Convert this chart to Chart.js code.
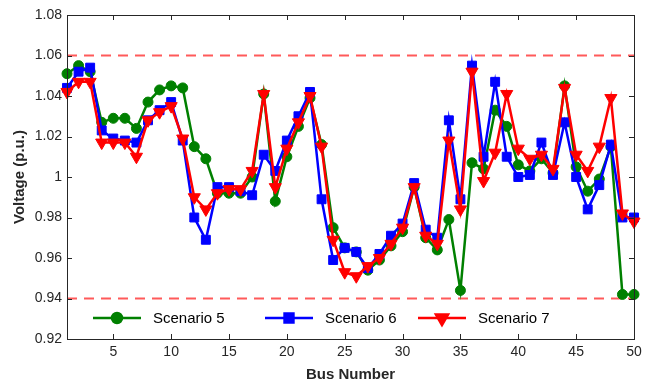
<!DOCTYPE html>
<html>
<head>
<meta charset="utf-8">
<script src="https://cdn.jsdelivr.net/npm/chart.js@4.4.1/dist/chart.umd.min.js"></script>
<style>
  html, body { margin: 0; padding: 0; background: #fff; }
  #wrap { width: 651px; height: 382px; }
</style>
</head>
<body>
<div id="wrap"><canvas id="voltageChart" width="651" height="382"></canvas></div>
<script>
// bus voltage profile for three scenarios
const busNumbers = [1, 2, 3, 4, 5, 6, 7, 8, 9, 10, 11, 12, 13, 14, 15, 16, 17, 18, 19, 20,
  21, 22, 23, 24, 25, 26, 27, 28, 29, 30, 31, 32, 33, 34, 35, 36, 37, 38, 39, 40,
  41, 42, 43, 44, 45, 46, 47, 48, 49, 50];

const scenario5 = [1.051, 1.055, 1.052, 1.027, 1.029, 1.029, 1.024, 1.037, 1.043, 1.045,
  1.044, 1.015, 1.009, 0.992, 0.992, 0.992, 1.000, 1.041, 0.988, 1.010,
  1.025, 1.039, 1.016, 0.975, 0.965, 0.963, 0.954, 0.959, 0.966, 0.973,
  0.995, 0.970, 0.964, 0.979, 0.944, 1.007, 1.004, 1.033, 1.025, 1.006,
  1.003, 1.009, 1.002, 1.045, 1.005, 0.993, 0.999, 1.015, 0.942, 0.942];

const scenario6 = [1.044, 1.052, 1.054, 1.023, 1.019, 1.018, 1.017, 1.028, 1.033, 1.037,
  1.018, 0.980, 0.969, 0.995, 0.995, 0.993, 0.991, 1.011, 1.003, 1.018,
  1.030, 1.042, 0.989, 0.959, 0.965, 0.963, 0.955, 0.962, 0.971, 0.977,
  0.997, 0.974, 0.970, 1.028, 0.989, 1.055, 1.010, 1.047, 1.010, 1.000,
  1.001, 1.017, 1.001, 1.027, 1.000, 0.984, 0.996, 1.016, 0.980, 0.980];

const scenario7 = [1.042, 1.047, 1.047, 1.017, 1.017, 1.017, 1.010, 1.028, 1.032, 1.035,
  1.019, 0.990, 0.984, 0.992, 0.994, 0.994, 1.003, 1.041, 0.995, 1.014,
  1.027, 1.040, 1.015, 0.969, 0.953, 0.951, 0.956, 0.960, 0.967, 0.975,
  0.995, 0.971, 0.967, 1.018, 0.984, 1.052, 0.998, 1.012, 1.041, 1.014,
  1.009, 1.011, 1.004, 1.044, 1.011, 1.003, 1.015, 1.039, 0.982, 0.978];

const voltageLimits = [0.94, 1.06];
const xTicks = [5, 10, 15, 20, 25, 30, 35, 40, 45, 50];
const yTicks = [0.92, 0.94, 0.96, 0.98, 1.00, 1.02, 1.04, 1.06, 1.08];

const axisColor = "#262626";
const fontFamily = "'Liberation Sans', Arial, sans-serif";

function toPoints(values) {
  return values.map((v, i) => ({ x: busNumbers[i], y: v }));
}

function limitLine(v) {
  return {
    data: [{ x: busNumbers[0], y: v }, { x: busNumbers[busNumbers.length - 1], y: v }],
    borderColor: "#ff5a5a",
    borderWidth: 2,
    borderDash: [10, 7],
    pointRadius: 0,
    order: 10,
    isLimit: true,
  };
}

function series(label, values, color, style, radius, rotation, order) {
  return {
    label: label,
    data: toPoints(values),
    borderColor: color,
    backgroundColor: color,
    borderWidth: 2.5,
    pointStyle: style,
    pointRadius: radius,
    pointRotation: rotation,
    pointBorderWidth: 1,
    pointBorderColor: color,
    pointBackgroundColor: color,
    clip: false,
    order: order,
  };
}

// box around the plot with inward tick marks on all four sides
const axesBox = {
  id: "axesBox",
  afterDatasetsDraw(chart) {
    const { ctx, chartArea: a, scales } = chart;
    const len = 5;
    ctx.save();
    ctx.strokeStyle = axisColor;
    ctx.lineWidth = 1;
    ctx.beginPath();
    xTicks.forEach((t) => {
      const px = Math.round(scales.x.getPixelForValue(t)) + 0.5;
      ctx.moveTo(px, a.bottom);
      ctx.lineTo(px, a.bottom - len);
      ctx.moveTo(px, a.top);
      ctx.lineTo(px, a.top + len);
    });
    yTicks.forEach((t) => {
      const py = Math.round(scales.y.getPixelForValue(t)) + 0.5;
      ctx.moveTo(a.left, py);
      ctx.lineTo(a.left + len, py);
      ctx.moveTo(a.right, py);
      ctx.lineTo(a.right - len, py);
    });
    ctx.stroke();
    ctx.strokeRect(Math.round(a.left) + 0.5, Math.round(a.top) + 0.5,
      Math.round(a.right - a.left), Math.round(a.bottom - a.top));
    ctx.restore();
  },
};

// horizontal legend sitting inside the bottom of the plot
const insideLegend = {
  id: "insideLegend",
  afterDraw(chart) {
    const { ctx, chartArea: a } = chart;
    const y = a.bottom - 21;
    const textStarts = [153, 325, 478];
    const lineLen = 48;
    ctx.save();
    ctx.font = "15px " + fontFamily;
    ctx.textBaseline = "middle";
    chart.data.datasets.filter((d) => !d.isLimit).forEach((d, i) => {
      const x0 = textStarts[i] - lineLen - 12;
      ctx.strokeStyle = d.borderColor;
      ctx.lineWidth = d.borderWidth;
      ctx.beginPath();
      ctx.moveTo(x0, y);
      ctx.lineTo(x0 + lineLen, y);
      ctx.stroke();
      ctx.fillStyle = d.backgroundColor;
      Chart.helpers.drawPoint(ctx, {
        pointStyle: d.pointStyle,
        radius: d.pointRadius,
        rotation: d.pointRotation,
        borderWidth: 1,
      }, x0 + lineLen / 2, y);
      ctx.fill();
      ctx.fillStyle = "#000";
      ctx.fillText(d.label, textStarts[i], y + 1);
    });
    ctx.restore();
  },
};

new Chart(document.getElementById("voltageChart"), {
  type: "line",
  data: {
    datasets: [
      series("Scenario 5", scenario5, "#008000", "circle", 5, 0, 3),
      series("Scenario 6", scenario6, "#0000ff", "rect", 6.3, 0, 2),
      series("Scenario 7", scenario7, "#ff0000", "triangle", 7, 180, 1),
      limitLine(voltageLimits[0]),
      limitLine(voltageLimits[1]),
    ],
  },
  options: {
    responsive: false,
    animation: false,
    layout: { padding: { top: 15, right: 17, left: 0, bottom: 0 } },
    plugins: {
      legend: { display: false },
      tooltip: { enabled: false },
    },
    scales: {
      x: {
        type: "linear",
        min: 1,
        max: 50,
        afterBuildTicks: (s) => { s.ticks = xTicks.map((v) => ({ value: v })); },
        afterFit: (s) => { s.height = 43; },
        grid: { display: false, drawTicks: false },
        border: { display: false },
        ticks: {
          color: axisColor,
          font: { family: fontFamily, size: 14 },
          padding: 5,
          maxRotation: 0,
          autoSkip: false,
        },
        title: {
          display: true,
          text: "Bus Number",
          color: axisColor,
          font: { family: fontFamily, size: 15, weight: "bold", lineHeight: 1 },
          padding: { top: 0, bottom: 0 },
        },
      },
      y: {
        min: 0.92,
        max: 1.08,
        afterBuildTicks: (s) => { s.ticks = yTicks.map((v) => ({ value: v })); },
        afterFit: (s) => { s.width = 67; },
        grid: { display: false, drawTicks: false },
        border: { display: false },
        ticks: {
          color: axisColor,
          font: { family: fontFamily, size: 14 },
          padding: 5,
          callback: (v) => String(parseFloat(v.toFixed(2))),
        },
        title: {
          display: true,
          text: "Voltage (p.u.)",
          color: axisColor,
          font: { family: fontFamily, size: 15, weight: "bold", lineHeight: 1 },
          padding: { top: 12, bottom: 0 },
        },
      },
    },
  },
  plugins: [axesBox, insideLegend],
});
</script>
</body>
</html>
